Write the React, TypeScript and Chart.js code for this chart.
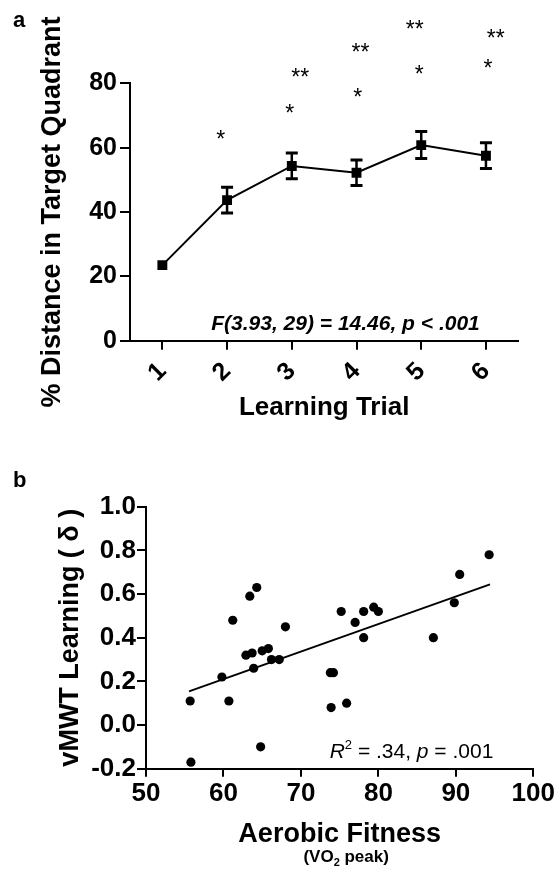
import React, { useEffect, useRef } from 'react';
import { Chart, registerables } from 'chart.js';

Chart.register(...registerables);

const FONT = "'Liberation Sans', Arial, Helvetica, sans-serif";

// ---------- Panel a data ----------
const trials = [1, 2, 3, 4, 5, 6];
const trialMeans = [23.5, 43.7, 54.3, 52.2, 60.8, 57.5];
const trialErrors = [0, 4.0, 4.0, 4.0, 4.2, 4.0];
const yTicksA = [0, 20, 40, 60, 80];
const starLabels = ['*', '*', '**', '*', '**', '*', '**', '*', '**'];
const starX = [1.9, 2.97, 3.13, 4.02, 4.06, 4.97, 4.9, 6.03, 6.15];
const starY = [64.2, 72.5, 83.4, 77.2, 91.4, 84.5, 98.4, 86.2, 95.7];

// ---------- Panel b data ----------
const fitnessX = [55.7, 55.8, 59.8, 60.7, 61.2, 62.9, 63.4, 63.7, 63.9, 64.3, 65.0, 65.8, 64.8, 66.2, 67.2, 68.0, 73.8, 74.2, 73.9, 75.9, 75.2, 77.0, 78.1, 78.1, 79.4, 80.0, 87.1, 89.8, 90.5, 94.3];
const learningY = [0.11, -0.17, 0.22, 0.11, 0.48, 0.32, 0.59, 0.33, 0.26, 0.63, 0.34, 0.35, -0.1, 0.3, 0.3, 0.45, 0.24, 0.24, 0.08, 0.1, 0.52, 0.47, 0.52, 0.4, 0.54, 0.52, 0.4, 0.56, 0.69, 0.78];
const fitLineX = [55.55, 94.41];
const fitLineY = [0.154, 0.644];
const xTicksB = [50, 60, 70, 80, 90, 100];
const yTicksB = [-0.2, 0, 0.2, 0.4, 0.6, 0.8, 1.0];

type Seg = { t: string; f: string; dy?: number };

function drawSegments(ctx: CanvasRenderingContext2D, segs: Seg[], x: number, y: number, align: 'left' | 'center' | 'right') {
  let total = 0;
  segs.forEach((s) => {
    ctx.font = s.f;
    total += ctx.measureText(s.t).width;
  });
  let cx = align === 'left' ? x : align === 'center' ? x - total / 2 : x - total;
  ctx.textAlign = 'left';
  ctx.textBaseline = 'alphabetic';
  segs.forEach((s) => {
    ctx.font = s.f;
    ctx.fillText(s.t, cx, y + (s.dy || 0));
    cx += ctx.measureText(s.t).width;
  });
}

const panelAPlugin = {
  id: 'panelAExtras',
  afterDatasetsDraw(chart: any) {
    const { ctx, scales } = chart;
    const x = scales.x;
    const y = scales.y;
    ctx.save();
    ctx.strokeStyle = '#000';
    trials.forEach((t, i) => {
      if (!trialErrors[i]) return;
      const px = x.getPixelForValue(t);
      const top = y.getPixelForValue(trialMeans[i] + trialErrors[i]);
      const bot = y.getPixelForValue(trialMeans[i] - trialErrors[i]);
      ctx.lineWidth = 2.5;
      ctx.beginPath();
      ctx.moveTo(px, top);
      ctx.lineTo(px, bot);
      ctx.stroke();
      ctx.lineWidth = 3;
      ctx.beginPath();
      ctx.moveTo(px - 6, top);
      ctx.lineTo(px + 6, top);
      ctx.moveTo(px - 6, bot);
      ctx.lineTo(px + 6, bot);
      ctx.stroke();
    });
    ctx.restore();
  },
  afterDraw(chart: any) {
    const { ctx, scales } = chart;
    const x = scales.x;
    const y = scales.y;
    ctx.save();
    ctx.fillStyle = '#000';
    // significance asterisks
    const starSize = 23;
    ctx.font = `normal ${starSize}px ${FONT}`;
    ctx.textAlign = 'center';
    ctx.textBaseline = 'alphabetic';
    starLabels.forEach((s, i) => {
      ctx.fillText(s, x.getPixelForValue(starX[i]), y.getPixelForValue(starY[i]) + starSize * 0.57);
    });
    // statistics annotation
    ctx.font = `italic bold 21px ${FONT}`;
    ctx.textAlign = 'center';
    ctx.fillText('F(3.93, 29) = 14.46, p < .001', x.getPixelForValue(3.83), y.getPixelForValue(3.33));
    // panel letter
    ctx.font = `bold 22px ${FONT}`;
    ctx.textAlign = 'left';
    ctx.fillText('a', 13, 27);
    ctx.restore();
  },
};

const panelBPlugin = {
  id: 'panelBExtras',
  afterDraw(chart: any) {
    const { ctx, scales } = chart;
    const x = scales.x;
    const y = scales.y;
    ctx.save();
    ctx.fillStyle = '#000';
    drawSegments(
      ctx,
      [
        { t: 'R', f: `italic 21px ${FONT}` },
        { t: '2', f: `13px ${FONT}`, dy: -9 },
        { t: ' = .34, ', f: `21px ${FONT}` },
        { t: 'p', f: `italic 21px ${FONT}` },
        { t: ' = .001', f: `21px ${FONT}` },
      ],
      x.getPixelForValue(94.84),
      y.getPixelForValue(-0.151),
      'right'
    );
    const ca = chart.chartArea;
    drawSegments(
      ctx,
      [
        { t: '(VO', f: `bold 17px ${FONT}` },
        { t: '2', f: `bold 11px ${FONT}`, dy: 4 },
        { t: ' peak)', f: `bold 17px ${FONT}` },
      ],
      (ca.left + ca.right) / 2 + 6.5,
      422,
      'center'
    );
    ctx.font = `bold 22px ${FONT}`;
    ctx.textAlign = 'left';
    ctx.textBaseline = 'alphabetic';
    ctx.fillText('b', 13, 47);
    ctx.restore();
  },
};

function PanelA() {
  const ref = useRef<HTMLCanvasElement | null>(null);
  useEffect(() => {
    if (!ref.current) return;
    const chart = new Chart(ref.current, {
      type: 'line',
      data: {
        datasets: [
          {
            data: trials.map((t, i) => ({ x: t, y: trialMeans[i] })),
            borderColor: '#000',
            borderWidth: 2,
            pointStyle: 'rect',
            pointRadius: 7,
            pointBorderWidth: 0,
            pointBackgroundColor: '#000',
            fill: false,
            tension: 0,
          },
        ],
      },
      options: {
        responsive: false,
        animation: false,
        events: [],
        layout: { padding: { top: 83.3, right: 39.7, bottom: 0, left: 0 } },
        plugins: { legend: { display: false }, tooltip: { enabled: false } },
        scales: {
          x: {
            type: 'linear',
            min: 0.5,
            max: 6.5,
            afterBuildTicks: (s: any) => {
              s.ticks = trials.map((v) => ({ value: v }));
            },
            afterFit: (s: any) => {
              s.height = 89.3;
              s.paddingLeft = 0;
              s.paddingRight = 0;
            },
            grid: { drawOnChartArea: false, color: '#000', lineWidth: 2, tickLength: 9 },
            border: { display: true, color: '#000', width: 2 },
            ticks: {
              autoSkip: false,
              minRotation: 45,
              maxRotation: 45,
              padding: 7,
              color: '#000',
              font: { family: FONT, size: 25, weight: 'bold' },
              callback: (v: any) => String(v),
            },
            title: {
              display: true,
              text: 'Learning Trial',
              color: '#000',
              font: { family: FONT, size: 26, weight: 'bold' },
              padding: { top: 0, bottom: 6.7 },
            },
          },
          y: {
            type: 'linear',
            min: 0,
            max: 80,
            afterBuildTicks: (s: any) => {
              s.ticks = yTicksA.map((v) => ({ value: v }));
            },
            afterFit: (s: any) => {
              s.width = 130;
              s.paddingTop = 0;
              s.paddingBottom = 0;
            },
            grid: { drawOnChartArea: false, color: '#000', lineWidth: 2, tickLength: 10 },
            border: { display: true, color: '#000', width: 2 },
            ticks: {
              padding: 3,
              color: '#000',
              font: { family: FONT, size: 25, weight: 'bold' },
              callback: (v: any) => String(v),
            },
            title: {
              display: true,
              text: '% Distance in Target Quadrant',
              color: '#000',
              font: { family: FONT, size: 27, weight: 'bold' },
              padding: { top: 36.4, bottom: 0 },
            },
          },
        },
      },
      plugins: [panelAPlugin],
    } as any);
    return () => chart.destroy();
  }, []);
  return (
    <canvas
      ref={ref}
      width={558}
      height={430}
      style={{ position: 'absolute', left: 0, top: 0, width: 558, height: 430, display: 'block' }}
    />
  );
}

function PanelB() {
  const ref = useRef<HTMLCanvasElement | null>(null);
  useEffect(() => {
    if (!ref.current) return;
    const chart = new Chart(ref.current, {
      type: 'scatter',
      data: {
        datasets: [
          {
            type: 'line',
            data: fitLineX.map((v, i) => ({ x: v, y: fitLineY[i] })),
            borderColor: '#000',
            borderWidth: 2,
            pointRadius: 0,
            fill: false,
          },
          {
            data: fitnessX.map((v, i) => ({ x: v, y: learningY[i] })),
            pointRadius: 4.6,
            pointBorderWidth: 0,
            pointBackgroundColor: '#000',
            backgroundColor: '#000',
          },
        ],
      },
      options: {
        responsive: false,
        animation: false,
        events: [],
        layout: { padding: { top: 66.7, right: 24.7, bottom: 0, left: 0 } },
        plugins: { legend: { display: false }, tooltip: { enabled: false } },
        scales: {
          x: {
            type: 'linear',
            min: 50,
            max: 100,
            afterBuildTicks: (s: any) => {
              s.ticks = xTicksB.map((v) => ({ value: v }));
            },
            afterFit: (s: any) => {
              s.height = 103.3;
              s.paddingLeft = 0;
              s.paddingRight = 0;
            },
            grid: { drawOnChartArea: false, color: '#000', lineWidth: 2, tickLength: 8 },
            border: { display: true, color: '#000', width: 2 },
            ticks: {
              autoSkip: false,
              maxRotation: 0,
              minRotation: 0,
              padding: 2,
              color: '#000',
              font: { family: FONT, size: 26, weight: 'bold' },
              callback: (v: any) => String(v),
            },
            title: {
              display: true,
              text: 'Aerobic Fitness',
              color: '#000',
              font: { family: FONT, size: 27, weight: 'bold' },
              padding: { top: 0, bottom: 21.5 },
            },
          },
          y: {
            type: 'linear',
            min: -0.2,
            max: 1.0,
            afterBuildTicks: (s: any) => {
              s.ticks = yTicksB.map((v) => ({ value: v }));
            },
            afterFit: (s: any) => {
              s.width = 146;
              s.paddingTop = 0;
              s.paddingBottom = 0;
            },
            grid: { drawOnChartArea: false, color: '#000', lineWidth: 2, tickLength: 9 },
            border: { display: true, color: '#000', width: 2 },
            ticks: {
              padding: 1,
              color: '#000',
              font: { family: FONT, size: 26, weight: 'bold' },
              callback: (v: any) => Number(v).toFixed(1),
            },
            title: {
              display: true,
              text: 'vMWT Learning ( δ )',
              color: '#000',
              font: { family: FONT, size: 27, weight: 'bold' },
              padding: { top: 54.4, bottom: 0 },
            },
          },
        },
      },
      plugins: [panelBPlugin],
    } as any);
    return () => chart.destroy();
  }, []);
  return (
    <canvas
      ref={ref}
      width={558}
      height={432}
      style={{ position: 'absolute', left: 0, top: 440, width: 558, height: 432, display: 'block' }}
    />
  );
}

export default function App() {
  return (
    <div style={{ position: 'absolute', left: 0, top: 0, width: 558, height: 872, background: '#fff', overflow: 'hidden' }}>
      <PanelA />
      <PanelB />
    </div>
  );
}
